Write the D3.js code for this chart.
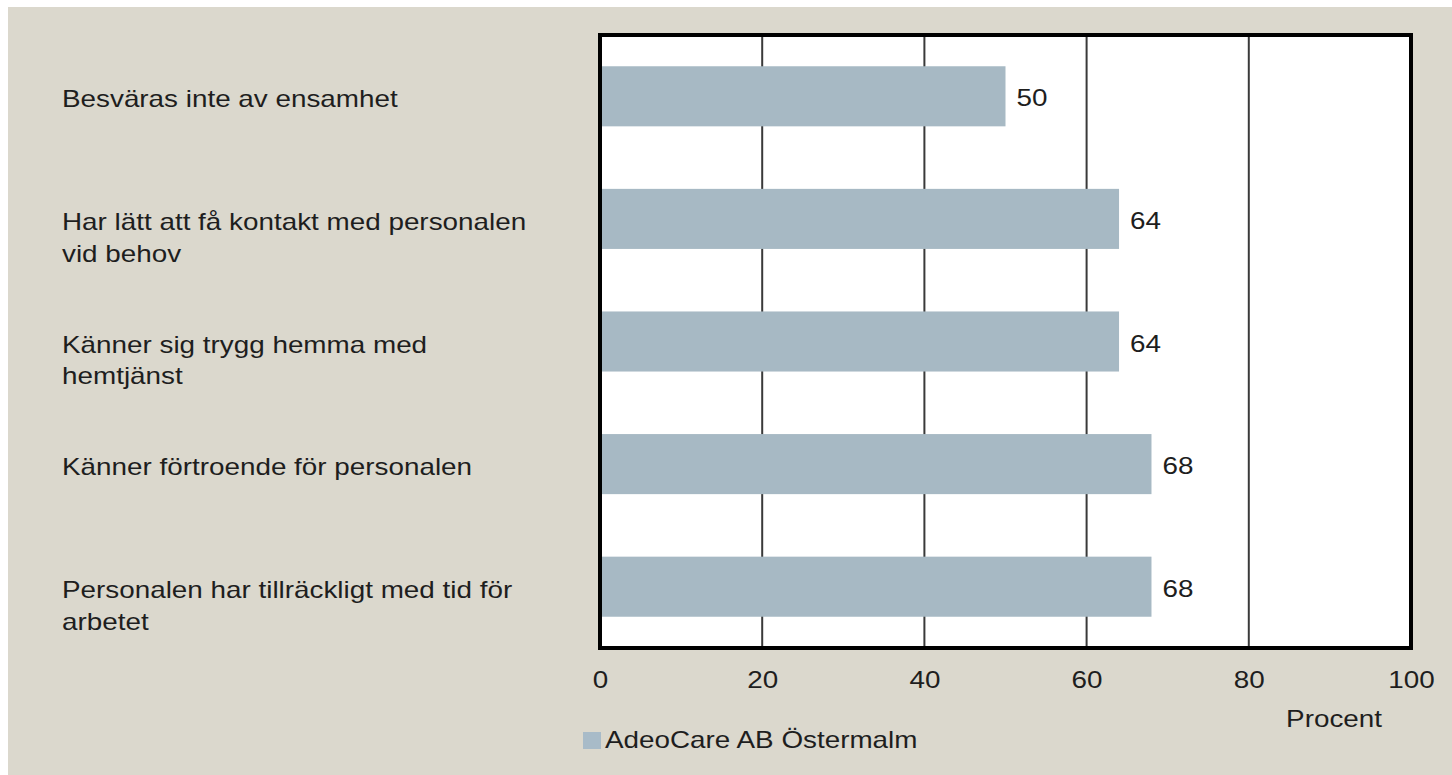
<!DOCTYPE html>
<html><head><meta charset="utf-8">
<script src="https://cdn.jsdelivr.net/npm/d3@7"></script>
<style>
html,body{margin:0;padding:0;background:#fff;}
svg{display:block;}
</style></head>
<body>
<svg id="chart" width="1452" height="775"></svg>
<script>
const categories = [
  ["Besväras inte av ensamhet"],
  ["Har lätt att få kontakt med personalen", "vid behov"],
  ["Känner sig trygg hemma med", "hemtjänst"],
  ["Känner förtroende för personalen"],
  ["Personalen har tillräckligt med tid för", "arbetet"]
];
const values = [50, 64, 64, 68, 68];
const tickValues = [0, 20, 40, 60, 80, 100];
const seriesName = "AdeoCare AB Östermalm";
const axisTitle = "Procent";

const svg = d3.select("#chart");
const font = "'Liberation Sans', Arial, sans-serif";
const FS = 24, SX = 1.16, TXT = "#1e1e1e";
svg.append("rect").attr("x", 8).attr("y", 7).attr("width", 1444).attr("height", 768).attr("fill", "#dbd8cd");

const L = 600, R = 1411, T = 35, B = 648;
const x = d3.scaleLinear().domain([0, 100]).range([L, R]);
const y = d3.scaleBand().domain(d3.range(categories.length)).range([T, B]).paddingInner(0.51).paddingOuter(0.255);

// helper: horizontally stretched text
function stext(g, tx, ty, anchor) {
  return g.append("g").attr("transform", `translate(${tx},${ty}) scale(${SX},1)`)
    .append("text").attr("x", 0).attr("y", 0).attr("text-anchor", anchor || "start")
    .attr("font-family", font).attr("font-size", FS).attr("fill", TXT);
}

svg.append("rect").attr("x", L).attr("y", T).attr("width", R - L).attr("height", B - T).attr("fill", "#fff");

// gridlines
svg.append("g").selectAll("line").data(tickValues.slice(1, -1)).join("line")
  .attr("x1", d => x(d)).attr("x2", d => x(d)).attr("y1", T).attr("y2", B)
  .attr("stroke", "#3a3a3a").attr("stroke-width", 2);

// bars
svg.append("g").selectAll("rect").data(values).join("rect")
  .attr("x", x(0)).attr("y", (d, i) => y(i)).attr("width", d => x(d) - x(0)).attr("height", y.bandwidth())
  .attr("fill", "#a7b9c4");

// value labels
const vg = svg.append("g");
values.forEach((v, i) => {
  stext(vg, x(v) + 11, y(i) + y.bandwidth() / 2 + 10).text(v);
});

// frame
svg.append("rect").attr("x", L).attr("y", T).attr("width", R - L).attr("height", B - T)
  .attr("fill", "none").attr("stroke", "#000").attr("stroke-width", 4);

// category labels
const cg = svg.append("g");
categories.forEach((lines, i) => {
  const t = stext(cg, 62, y(i) + y.bandwidth() / 2 + 11);
  lines.forEach((ln, j) => t.append("tspan").attr("x", 0).attr("dy", j === 0 ? 0 : 32).text(ln));
});

// x axis
const ax = svg.append("g").attr("transform", `translate(0,${B + 32})`)
  .call(d3.axisBottom(x).tickValues(tickValues).tickSize(0).tickPadding(0));
ax.select(".domain").remove();
ax.selectAll(".tick text").remove();
ax.selectAll(".tick").each(function(d) {
  stext(d3.select(this), 0, 8, "middle").text(d);
});

stext(svg, 1382, 727, "end").text(axisTitle);

// legend
svg.append("rect").attr("x", 583).attr("y", 732).attr("width", 18).attr("height", 17).attr("fill", "#a8bbc8");
stext(svg, 605, 748).text(seriesName);
</script>
</body></html>
